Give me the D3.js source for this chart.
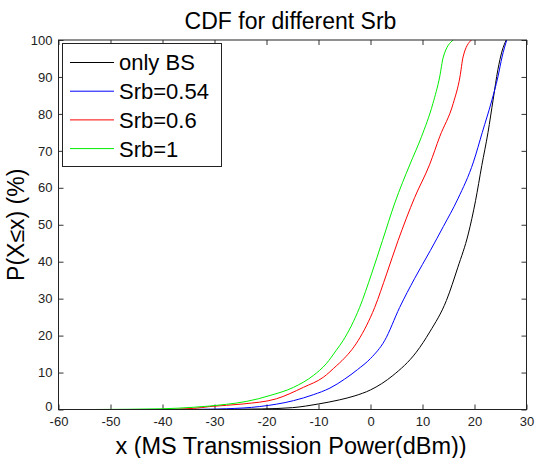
<!DOCTYPE html>
<html>
<head>
<meta charset="utf-8">
<script src="https://cdn.jsdelivr.net/npm/d3@7/dist/d3.min.js"></script>
<style>
  body { margin: 0; background: #fff; }
  text { font-family: Arial, "Liberation Sans", sans-serif; }
</style>
</head>
<body>
<script>
// data: x = MS transmission power (dBm), y = CDF (%)
let bsPower  = [-34, -27, -21, -15, -10, -6, -3, 0, 4.3, 8.8, 11.4, 14.6, 16.8, 18.8, 20.2, 21.4, 22.6, 23.6, 24.5, 25.3, 26.1];
let bsCdf    = [0, 0.05, 0.15, 0.5, 1.5, 2.6, 3.7, 5.3, 9.2, 15.5, 21, 29.5, 38.5, 47.5, 56.5, 66, 75, 84, 92, 97, 100];

let s054Power = [-37, -30, -27.7, -21.3, -14.8, -11, -7.8, -5, -2.5, 0, 2.7, 5.6, 8.5, 11.5, 14, 16.8, 19.8, 21.5, 23.3, 24.5, 25.3, 26.2];
let s054Cdf   = [0, 0.1, 0.2, 0.8, 2.4, 4, 5.8, 8.2, 10.8, 13.8, 18.6, 27.6, 35.5, 43, 49.5, 57, 67, 75, 83.5, 90, 95.4, 100];

let s06Power = [-40.5, -34, -30.9, -24.5, -18.1, -12.9, -9.1, -6.5, -5.5, -2.4, 0.8, 3.1, 5.3, 8.5, 11.4, 13.3, 15.9, 17.2, 17.8, 19.4];
let s06Cdf   = [0, 0.3, 0.8, 1.5, 2.9, 6, 8.7, 11.9, 13.2, 18.6, 27.6, 36.7, 45.7, 57.4, 66.4, 73.8, 82.8, 90, 95.4, 100];

let s1Power = [-53.3, -40, -34.1, -27.7, -23.8, -19.3, -14.8, -11, -8.5, -6.6, -5.3, -2.1, 0.2, 2.3, 4.7, 7.6, 9.8, 12, 13.3, 14, 15.9];
let s1Cdf   = [0, 0.2, 0.6, 1.4, 2.2, 3.8, 6, 9.2, 12.4, 16, 18.6, 27.6, 36.7, 45.7, 56, 66.4, 73.8, 82.8, 90, 95.4, 100];

let seriesNames = ['only BS', 'Srb=0.54', 'Srb=0.6', 'Srb=1'];
let xTicks = [-60, -50, -40, -30, -20, -10, 0, 10, 20, 30];
let yTicks = [0, 10, 20, 30, 40, 50, 60, 70, 80, 90, 100];

let width = 541, height = 458;
let margin = { top: 40, bottom: 48.5, left: 58.5, right: 14.5 };
let colors = ['#000000', '#0000ff', '#ff0000', '#00ee00'];

let series = [
  d3.zip(bsPower, bsCdf),
  d3.zip(s054Power, s054Cdf),
  d3.zip(s06Power, s06Cdf),
  d3.zip(s1Power, s1Cdf)
];

let svg = d3.select('body')
  .append('svg')
  .attr('width', width)
  .attr('height', height)
  .style('display', 'block');

let xScale = d3.scaleLinear()
  .domain([-60, 30])
  .range([margin.left, width - margin.right]);

let yScale = d3.scaleLinear()
  .domain([0, 100])
  .range([height - margin.bottom, margin.top]);

// axes, ticks pointing inward
let fmt = d => String(d);
let bottomAxis = svg.append('g')
  .attr('transform', `translate(0, ${height - margin.bottom})`)
  .call(d3.axisBottom(xScale).tickValues(xTicks).tickFormat(fmt).tickSizeInner(-5).tickSizeOuter(0).tickPadding(7));
let topAxis = svg.append('g')
  .attr('transform', `translate(0, ${margin.top})`)
  .call(d3.axisTop(xScale).tickValues(xTicks).tickFormat('').tickSizeInner(-5).tickSizeOuter(0));
let leftAxis = svg.append('g')
  .attr('transform', `translate(${margin.left}, 0)`)
  .call(d3.axisLeft(yScale).tickValues(yTicks).tickFormat(fmt).tickSizeInner(-5).tickSizeOuter(0).tickPadding(6));
let rightAxis = svg.append('g')
  .attr('transform', `translate(${width - margin.right}, 0)`)
  .call(d3.axisRight(yScale).tickValues(yTicks).tickFormat('').tickSizeInner(-5).tickSizeOuter(0));

svg.selectAll('.domain').remove();
svg.selectAll('.tick line').attr('stroke', '#333');
svg.selectAll('.tick text')
  .style('font-size', '13px')
  .attr('fill', '#222');
// the 0 label sits a little above the corner, as in the original
leftAxis.selectAll('.tick text').filter(d => d === 0).attr('dy', '0.1em');

//draw the curves
let line = d3.line()
  .x(d => xScale(d[0]))
  .y(d => yScale(d[1]))
  .curve(d3.curveMonotoneX);

svg.selectAll('.cdf')
  .data(series)
  .enter()
  .append('path')
  .attr('class', 'cdf')
  .attr('d', line)
  .attr('fill', 'none')
  .attr('stroke', (d, i) => colors[i])
  .attr('stroke-width', 1);

// plot box
svg.append('rect')
  .attr('x', margin.left)
  .attr('y', margin.top)
  .attr('width', width - margin.left - margin.right)
  .attr('height', height - margin.top - margin.bottom)
  .attr('fill', 'none')
  .attr('stroke', '#222')
  .attr('stroke-width', 1);

//legend
let legend = svg.append('g');
legend.append('rect')
  .attr('x', 62.5)
  .attr('y', 43.5)
  .attr('width', 159)
  .attr('height', 123)
  .attr('fill', '#fff')
  .attr('stroke', '#222');

let items = legend.selectAll('.item')
  .data(seriesNames)
  .enter()
  .append('g')
  .attr('transform', (d, i) => `translate(0, ${62.5 + i * 28.7})`);

items.append('line')
  .attr('x1', 70)
  .attr('x2', 114)
  .attr('stroke', (d, i) => colors[i])
  .attr('stroke-width', 1);

items.append('text')
  .attr('x', 119)
  .attr('dy', '0.36em')
  .style('font-size', '22px')
  .text(d => d);

//labels
svg.append('text')
  .attr('x', 290.5)
  .attr('y', 28.5)
  .style('text-anchor', 'middle')
  .style('font-size', '23px')
  .text('CDF for different Srb');

svg.append('text')
  .attr('x', 291)
  .attr('y', 454)
  .style('text-anchor', 'middle')
  .style('font-size', '23.5px')
  .text('x (MS Transmission Power(dBm))');

svg.append('text')
  .attr('transform', `translate(24, ${(margin.top + height - margin.bottom) / 2}) rotate(-90)`)
  .style('text-anchor', 'middle')
  .style('font-size', '23px')
  .text('P(X≤x) (%)');
</script>
</body>
</html>
